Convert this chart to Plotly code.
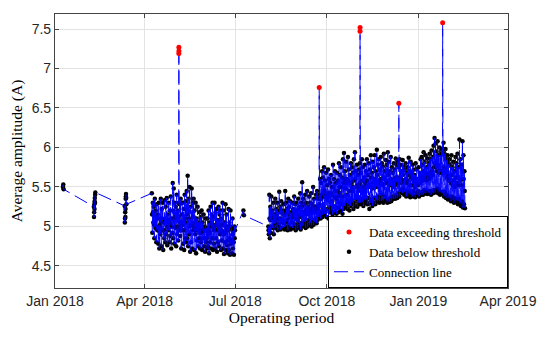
import pandas as pd
import plotly.graph_objects as go

# ---------------- data ----------------
# sparse clusters, below threshold
c1_times = ["2018-01-09 00:00", "2018-01-09 08:00", "2018-01-09 16:00"]
c1_vals = [5.50, 5.53, 5.47]

c2_times = ["2018-02-09 00:00", "2018-02-09 04:00", "2018-02-09 08:00", "2018-02-09 12:00",
            "2018-02-09 16:00", "2018-02-09 20:00", "2018-02-10 00:00", "2018-02-10 04:00",
            "2018-02-10 08:00", "2018-02-10 12:00"]
c2_vals = [5.25, 5.12, 5.18, 5.28, 5.22, 5.32, 5.36, 5.30, 5.40, 5.43]

c3_times = ["2018-03-12 00:00", "2018-03-12 04:00", "2018-03-12 08:00", "2018-03-12 12:00",
            "2018-03-12 16:00", "2018-03-12 20:00", "2018-03-13 00:00", "2018-03-13 04:00",
            "2018-03-13 08:00", "2018-03-13 12:00", "2018-03-13 16:00"]
c3_vals = [5.26, 5.05, 5.10, 5.18, 5.12, 5.22, 5.35, 5.38, 5.41, 5.36, 5.28]

c4_times = ["2018-07-09 06:00", "2018-07-09 18:00"]
c4_vals = [5.20, 5.14]

# dense period A (daily high / mid / low), starting 2018-04-08
dense_a_start = "2018-04-08"
dense_a_hi = [5.42, 5.30, 5.25, 5.35, 5.20, 5.28, 5.15,
              5.30, 5.10, 5.35, 5.22, 5.30, 5.05, 5.33,
              5.25, 5.36, 5.15, 5.30, 5.20, 5.38, 5.10,
              5.55, 5.48, 5.30, 5.25, 5.40, 5.20, 5.30,
              5.28, 5.35, 5.15, 5.30, 5.22, 5.40, 5.32,
              5.45, 5.64, 5.35, 5.50, 5.25, 5.48, 5.30,
              5.35, 5.20, 5.30, 5.10, 5.25, 5.05, 5.18,
              5.12, 5.20, 5.05, 5.15, 5.00, 5.10, 4.98,
              5.10, 5.20, 5.05, 5.25, 5.15, 5.30, 5.12,
              5.30, 5.18, 5.22, 5.08, 5.25, 5.15, 5.20,
              5.10, 5.30, 5.20, 5.05, 5.28, 5.15, 5.00,
              5.22, 5.05, 5.20, 4.98, 5.10, 4.95, 5.00]
dense_a_mid = [5.15, 5.18, 5.02, 5.12, 5.00, 5.10, 4.95,
               5.00, 5.02, 5.05, 5.10, 4.95, 4.95, 5.08,
               5.05, 5.00, 5.08, 5.05, 5.02, 5.00, 5.00,
               5.20, 5.10, 5.12, 5.00, 5.15, 5.00, 5.12,
               5.05, 5.00, 5.05, 5.02, 4.95, 5.10, 5.05,
               5.15, 5.20, 5.10, 5.00, 5.02, 5.05, 5.12,
               5.00, 5.05, 4.95, 4.98, 5.00, 4.95, 4.92,
               4.95, 4.92, 4.96, 4.95, 4.85, 4.95, 4.85,
               4.90, 4.95, 4.92, 5.00, 5.00, 5.02, 4.95,
               5.00, 5.02, 4.95, 4.95, 5.00, 5.02, 4.92,
               4.95, 5.02, 4.90, 4.92, 5.00, 4.95, 4.82,
               4.95, 4.85, 5.00, 4.82, 4.90, 4.80, 4.85]
dense_a_lo = [4.92, 5.05, 4.85, 4.98, 4.80, 4.95, 4.78,
              4.72, 4.90, 4.75, 4.95, 4.70, 4.85, 4.80,
              4.90, 4.76, 4.95, 4.80, 4.88, 4.72, 4.92,
              4.85, 4.78, 4.98, 4.75, 4.90, 4.82, 4.95,
              4.88, 4.72, 4.95, 4.78, 4.70, 4.85, 4.80,
              4.85, 4.75, 4.90, 4.68, 4.80, 4.72, 4.95,
              4.70, 4.90, 4.66, 4.82, 4.75, 4.85, 4.72,
              4.80, 4.70, 4.85, 4.75, 4.68, 4.80, 4.72,
              4.75, 4.66, 4.80, 4.72, 4.85, 4.70, 4.78,
              4.72, 4.85, 4.68, 4.80, 4.75, 4.90, 4.70,
              4.82, 4.72, 4.65, 4.80, 4.70, 4.76, 4.66,
              4.70, 4.64, 4.78, 4.66, 4.72, 4.64, 4.95]

# dense period B (daily high / mid / low), starting 2018-08-03
dense_b_start = "2018-08-03"
dense_b_hi = [5.00, 5.40, 5.25, 5.38, 5.20, 5.30, 5.15,
              5.35, 5.22, 5.30, 5.18, 5.44, 5.25, 5.32,
              5.20, 5.28, 5.15, 5.45, 5.30, 5.22, 5.35,
              5.25, 5.32, 5.18, 5.30, 5.22, 5.38, 5.28,
              5.30, 5.20, 5.35, 5.25, 5.42, 5.30, 5.56,
              5.35, 5.28, 5.40, 5.30, 5.45, 5.25, 5.38,
              5.30, 5.42, 5.28, 5.50, 5.35, 5.25, 5.40,
              5.45, 5.35, 5.40, 5.60, 5.55, 5.70, 5.62,
              5.75, 5.58, 5.68, 5.52, 5.72, 5.60, 5.55,
              5.65, 5.50, 5.78, 5.60, 5.70, 5.55, 5.68,
              5.58, 5.80, 5.65, 5.75, 5.62, 5.85, 5.93,
              5.70, 5.82, 5.60, 5.88, 5.72, 5.65, 5.80,
              5.75, 5.68, 5.85, 5.94, 5.70, 5.78, 5.65,
              5.72, 5.80, 5.68, 5.85, 5.75, 5.62, 5.78,
              5.70, 5.85, 5.65, 5.80, 5.72, 5.90, 5.68,
              5.82, 5.75, 5.90, 5.70, 5.97, 5.78, 5.85,
              5.72, 5.88, 5.80, 5.76, 5.92, 5.70, 5.84,
              5.78, 5.94, 5.82, 5.70, 5.88, 5.75, 5.68,
              5.80, 5.72, 5.86, 5.78, 5.82, 5.75, 5.85,
              5.78, 5.70, 5.84, 5.76, 5.72, 5.80, 5.68,
              5.75, 5.87, 5.70, 5.82, 5.68, 5.78, 5.72,
              5.65, 5.80, 5.72, 5.60, 5.75, 5.68, 5.85,
              5.88, 5.78, 5.94, 5.82, 5.90, 5.75, 5.86,
              5.80, 5.92, 5.85, 5.96, 5.88, 6.02, 6.12,
              6.05, 5.95, 6.08, 5.90, 6.00, 5.92, 5.98,
              5.95, 6.06, 5.92, 5.98, 5.85, 5.90, 5.80,
              5.85, 5.78, 5.90, 5.75, 5.82, 5.70, 5.88,
              5.80, 5.92, 5.75, 6.10, 5.85, 5.78, 6.08,
              5.90, 5.70]
dense_b_mid = [4.95, 5.10, 5.08, 5.18, 5.10, 5.12, 5.08,
               5.15, 5.12, 5.10, 5.10, 5.20, 5.10, 5.18,
               5.08, 5.15, 5.05, 5.20, 5.18, 5.08, 5.18,
               5.12, 5.15, 5.10, 5.14, 5.12, 5.20, 5.10,
               5.15, 5.08, 5.20, 5.12, 5.18, 5.15, 5.25,
               5.18, 5.15, 5.20, 5.16, 5.22, 5.15, 5.20,
               5.18, 5.22, 5.18, 5.25, 5.20, 5.18, 5.22,
               5.25, 5.22, 5.28, 5.35, 5.35, 5.40, 5.38,
               5.45, 5.38, 5.40, 5.35, 5.42, 5.38, 5.40,
               5.42, 5.32, 5.50, 5.38, 5.45, 5.35, 5.45,
               5.38, 5.50, 5.42, 5.50, 5.38, 5.55, 5.60,
               5.48, 5.55, 5.40, 5.58, 5.45, 5.45, 5.55,
               5.50, 5.45, 5.58, 5.60, 5.50, 5.52, 5.45,
               5.50, 5.55, 5.50, 5.58, 5.50, 5.45, 5.55,
               5.50, 5.58, 5.50, 5.52, 5.50, 5.62, 5.48,
               5.55, 5.55, 5.60, 5.50, 5.65, 5.58, 5.58,
               5.55, 5.60, 5.60, 5.52, 5.62, 5.55, 5.58,
               5.55, 5.65, 5.56, 5.52, 5.60, 5.55, 5.50,
               5.58, 5.52, 5.62, 5.56, 5.60, 5.55, 5.62,
               5.60, 5.55, 5.65, 5.58, 5.58, 5.60, 5.55,
               5.58, 5.65, 5.52, 5.62, 5.52, 5.60, 5.55,
               5.50, 5.60, 5.55, 5.52, 5.58, 5.55, 5.62,
               5.65, 5.58, 5.70, 5.62, 5.68, 5.58, 5.65,
               5.60, 5.68, 5.62, 5.70, 5.65, 5.75, 5.80,
               5.75, 5.70, 5.78, 5.68, 5.72, 5.68, 5.70,
               5.70, 5.75, 5.68, 5.70, 5.62, 5.65, 5.58,
               5.60, 5.55, 5.65, 5.52, 5.58, 5.50, 5.62,
               5.55, 5.62, 5.52, 5.75, 5.58, 5.52, 5.70,
               5.60, 5.45]
dense_b_lo = [4.90, 4.85, 4.92, 5.00, 4.98, 4.90, 5.02,
              4.98, 5.05, 4.95, 5.02, 5.00, 4.96, 5.05,
              4.98, 5.04, 4.96, 5.00, 5.06, 4.95, 5.02,
              5.00, 4.96, 5.05, 4.98, 5.04, 5.00, 4.95,
              5.02, 4.98, 5.05, 5.00, 4.96, 5.04, 5.00,
              5.02, 5.06, 4.98, 5.04, 5.00, 5.08, 5.02,
              5.05, 5.00, 5.08, 5.02, 5.06, 5.10, 5.04,
              5.08, 5.12, 5.15, 5.10, 5.18, 5.12, 5.20,
              5.15, 5.20, 5.12, 5.22, 5.10, 5.18, 5.25,
              5.20, 5.15, 5.25, 5.18, 5.22, 5.16, 5.24,
              5.18, 5.25, 5.20, 5.28, 5.16, 5.22, 5.26,
              5.25, 5.30, 5.22, 5.28, 5.20, 5.26, 5.32,
              5.28, 5.22, 5.30, 5.26, 5.34, 5.25, 5.30,
              5.30, 5.28, 5.35, 5.30, 5.26, 5.34, 5.30,
              5.32, 5.28, 5.36, 5.22, 5.30, 5.34, 5.26,
              5.30, 5.36, 5.28, 5.34, 5.32, 5.38, 5.30,
              5.36, 5.32, 5.40, 5.30, 5.35, 5.38, 5.33,
              5.30, 5.34, 5.31, 5.36, 5.32, 5.38, 5.35,
              5.38, 5.35, 5.40, 5.36, 5.42, 5.38, 5.44,
              5.46, 5.42, 5.48, 5.40, 5.45, 5.38, 5.44,
              5.40, 5.44, 5.37, 5.42, 5.38, 5.45, 5.40,
              5.37, 5.42, 5.40, 5.45, 5.38, 5.42, 5.40,
              5.44, 5.40, 5.46, 5.42, 5.45, 5.41, 5.44,
              5.42, 5.45, 5.40, 5.44, 5.42, 5.46, 5.43,
              5.44, 5.48, 5.42, 5.46, 5.40, 5.44, 5.42,
              5.42, 5.38, 5.44, 5.36, 5.40, 5.34, 5.38,
              5.36, 5.32, 5.38, 5.34, 5.30, 5.36, 5.33,
              5.32, 5.28, 5.35, 5.30, 5.26, 5.32, 5.24,
              5.28, 5.23]

# points exceeding the threshold
exceed_times = ["2018-05-05 09:00", "2018-05-05 10:00", "2018-05-05 11:00",
                "2018-09-23 09:00",
                "2018-11-03 09:00", "2018-11-03 10:00",
                "2018-12-12 09:00",
                "2019-01-25 09:00"]
exceed_vals = [7.19, 7.27, 7.22, 6.76, 7.47, 7.52, 6.56, 7.58]


# ---------------- build series ----------------
def dense_series(start, hi, mid, lo):
    days = pd.date_range(start, periods=len(hi), freq="D")
    t, v = [], []
    for d, h, m, l in zip(days, hi, mid, lo):
        t += [d + pd.Timedelta(hours=6), d + pd.Timedelta(hours=12), d + pd.Timedelta(hours=18)]
        v += [h, m, l]
    return t, v


a_t, a_v = dense_series(dense_a_start, dense_a_hi, dense_a_mid, dense_a_lo)
b_t, b_v = dense_series(dense_b_start, dense_b_hi, dense_b_mid, dense_b_lo)

below_t = (list(pd.to_datetime(c1_times)) + list(pd.to_datetime(c2_times)) +
           list(pd.to_datetime(c3_times)) + a_t + list(pd.to_datetime(c4_times)) + b_t)
below_v = c1_vals + c2_vals + c3_vals + a_v + c4_vals + b_v
exc_t = list(pd.to_datetime(exceed_times))

conn = sorted(zip(below_t + exc_t, below_v + exceed_vals), key=lambda p: p[0])
conn_t = [p[0] for p in conn]
conn_v = [p[1] for p in conn]

# ---------------- figure ----------------
fig = go.Figure()
fig.add_trace(go.Scatter(x=below_t, y=below_v, mode="markers",
                         marker=dict(color="black", size=4.5),
                         name="Data below threshold", legendrank=2))
fig.add_trace(go.Scatter(x=conn_t, y=conn_v, mode="lines",
                         line=dict(color="#0000ff", width=1, dash="14px,6px"),
                         name="Connection line", legendrank=3))
fig.add_trace(go.Scatter(x=exc_t, y=exceed_vals, mode="markers",
                         marker=dict(color="#ff0000", size=5),
                         name="Data exceeding threshold", legendrank=1))

axis_common = dict(showline=True, linecolor="#444444", linewidth=1.2, mirror="ticks",
                   ticks="inside", ticklen=4, tickcolor="#444444",
                   showgrid=True, gridcolor="#e3e3e3", gridwidth=1, zeroline=False,
                   tickfont=dict(family="Liberation Sans, Arial", size=14, color="#262626"))

fig.update_xaxes(range=["2018-01-01", "2019-04-01"], tick0="2018-01-01", dtick="M3",
                 tickformat="%b %Y",
                 title=dict(text="Operating period", standoff=4,
                            font=dict(family="Liberation Serif, Times New Roman", size=15.5, color="black")),
                 **axis_common)
fig.update_yaxes(range=[4.22, 7.69], tick0=4.5, dtick=0.5,
                 title=dict(text="Average amplitude (A)", standoff=5,
                            font=dict(family="Liberation Serif, Times New Roman", size=15.5, color="black")),
                 **axis_common)

fig.update_layout(width=550, height=340, margin=dict(l=55, r=42, t=14, b=52),
                  plot_bgcolor="white", paper_bgcolor="white",
                  legend=dict(x=1, y=0, xanchor="right", yanchor="bottom",
                              bgcolor="white", bordercolor="black", borderwidth=1,
                              font=dict(family="Liberation Serif, Times New Roman", size=13, color="black"),
                              tracegroupgap=0))

fig.write_html("out.html", config={"displayModeBar": False},
               post_script="document.body.style.margin='0';")
